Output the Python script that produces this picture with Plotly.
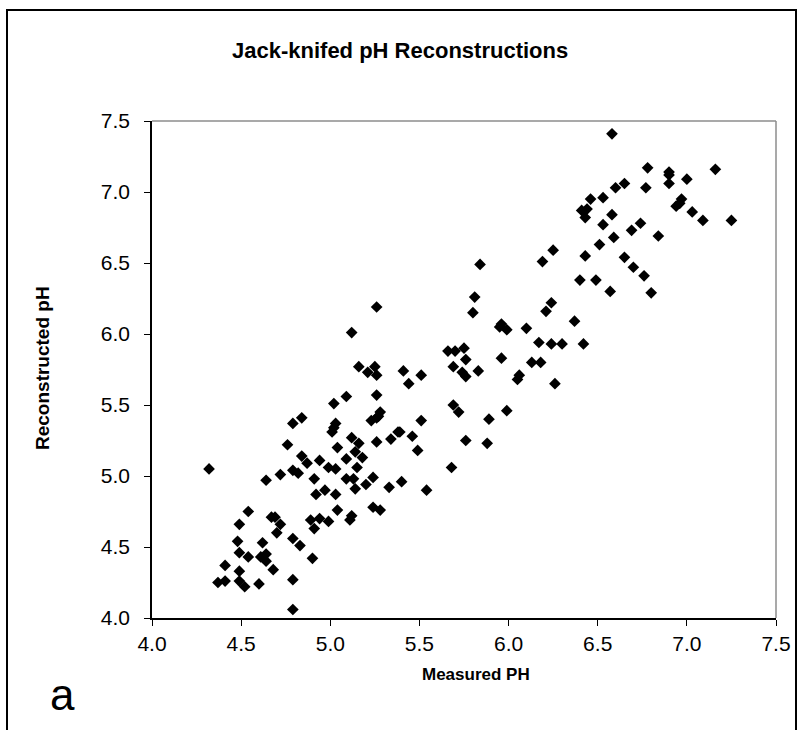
import plotly.graph_objects as go

measured_ph = [
    4.32, 4.76, 4.84, 4.87, 4.64, 4.72, 4.79, 4.82, 4.54, 4.49,
    4.67, 4.69, 4.72, 4.70, 4.48, 4.62, 4.79, 4.83, 4.49, 4.54,
    4.61, 4.64, 4.64, 4.68, 4.41, 4.49, 4.37, 4.41, 4.49, 4.52,
    4.60, 4.79, 4.79, 4.89, 4.90, 4.91, 4.94, 4.99, 5.04, 5.03,
    4.92, 4.97, 4.91, 5.11, 5.12, 5.24, 5.28, 5.09, 5.13, 5.14,
    5.20, 5.24, 5.33, 5.40, 5.54, 5.68, 5.76, 4.79, 4.84, 4.94,
    4.99, 5.03, 5.02, 5.09, 5.03, 5.02, 5.01, 5.04, 5.12, 5.16,
    5.14, 5.09, 5.18, 5.15, 5.26, 5.28, 5.26, 5.23, 5.27, 5.26,
    5.34, 5.38, 5.39, 5.46, 5.51, 5.49, 5.16, 5.21, 5.25, 5.26,
    5.41, 5.44, 5.51, 5.69, 5.74, 5.76, 5.69, 5.72, 5.26, 5.12,
    5.66, 5.84, 6.19, 6.40, 6.49, 5.81, 5.80, 6.24, 6.21, 6.37,
    5.96, 5.95, 5.99, 6.10, 6.17, 6.24, 6.30, 6.42, 5.70, 5.75,
    5.76, 5.83, 5.96, 6.13, 6.18, 6.06, 6.05, 6.26, 5.89, 5.99,
    5.88, 6.58, 6.78, 6.90, 6.90, 7.16, 7.00, 6.90, 6.77, 6.65,
    6.60, 6.53, 6.46, 6.44, 6.41, 6.43, 6.58, 6.53, 6.97, 6.96,
    6.94, 7.03, 7.09, 7.25, 6.74, 6.69, 6.59, 6.84, 6.51, 6.43,
    6.65, 6.70, 6.76, 6.57, 6.80, 6.25,
]
reconstructed_ph = [
    5.05, 5.22, 5.14, 5.09, 4.97, 5.01, 5.04, 5.02, 4.75, 4.66,
    4.71, 4.71, 4.66, 4.60, 4.54, 4.53, 4.56, 4.51, 4.46, 4.43,
    4.43, 4.45, 4.40, 4.34, 4.37, 4.33, 4.25, 4.26, 4.26, 4.22,
    4.24, 4.27, 4.06, 4.69, 4.42, 4.63, 4.70, 4.68, 4.76, 4.87,
    4.87, 4.90, 4.98, 4.69, 4.72, 4.78, 4.76, 4.98, 4.98, 4.91,
    4.94, 4.99, 4.92, 4.96, 4.90, 5.06, 5.25, 5.37, 5.41, 5.11,
    5.06, 5.05, 5.51, 5.56, 5.37, 5.34, 5.31, 5.20, 5.27, 5.23,
    5.17, 5.12, 5.13, 5.06, 5.57, 5.45, 5.41, 5.39, 5.42, 5.24,
    5.26, 5.31, 5.31, 5.28, 5.39, 5.18, 5.77, 5.73, 5.77, 5.71,
    5.74, 5.65, 5.71, 5.77, 5.73, 5.70, 5.50, 5.45, 6.19, 6.01,
    5.88, 6.49, 6.51, 6.38, 6.38, 6.26, 6.15, 6.22, 6.16, 6.09,
    6.07, 6.05, 6.03, 6.04, 5.94, 5.93, 5.93, 5.93, 5.88, 5.90,
    5.82, 5.74, 5.83, 5.80, 5.80, 5.71, 5.68, 5.65, 5.40, 5.46,
    5.23, 7.41, 7.17, 7.14, 7.12, 7.16, 7.09, 7.06, 7.03, 7.06,
    7.03, 6.96, 6.95, 6.88, 6.87, 6.82, 6.84, 6.77, 6.95, 6.92,
    6.90, 6.86, 6.80, 6.80, 6.78, 6.73, 6.68, 6.69, 6.63, 6.55,
    6.54, 6.47, 6.41, 6.30, 6.29, 6.59,
]
axis_ticks = [4.0, 4.5, 5.0, 5.5, 6.0, 6.5, 7.0, 7.5]

title_text = "Jack-knifed pH Reconstructions"
x_title = "Measured PH"
y_title = "Reconstructed pH"
panel_label = "a"

FONT = "Liberation Sans, Arial, sans-serif"

# plot-area geometry in pixels (for placing annotations)
L, R, T, B = 152, 776, 121, 618
W, H = R - L, B - T


def px(x):
    return (x - L) / W


def py(y):
    return (B - y) / H


fig = go.Figure()
fig.add_trace(go.Scatter(
    x=measured_ph, y=reconstructed_ph, mode="markers",
    marker=dict(symbol="diamond", size=9, color="black", line=dict(width=0)),
    showlegend=False, hoverinfo="x+y",
))

axis_common = dict(
    range=[4.0, 7.5], tickvals=axis_ticks, tickformat=".1f",
    showgrid=False, zeroline=False, showline=True, linecolor="black", linewidth=1.5,
    ticks="outside", ticklen=6, tickcolor="black", tickwidth=1,
    tickfont=dict(size=21, family=FONT),
)

fig.update_layout(
    width=803, height=730,
    margin=dict(l=L, r=803 - R, t=T, b=730 - B),
    paper_bgcolor="white", plot_bgcolor="white",
    font=dict(family=FONT, color="black"),
    showlegend=False,
    xaxis=dict(**axis_common, ticklabelstandoff=0),
    yaxis=dict(**axis_common, ticklabelstandoff=10),
    shapes=[
        dict(type="line", xref="paper", yref="paper", x0=0, x1=1, y0=1, y1=1,
             line=dict(color="#8c8c8c", width=1.5)),
        dict(type="line", xref="paper", yref="paper", x0=1, x1=1, y0=0, y1=1,
             line=dict(color="#8c8c8c", width=1.5)),
        dict(type="rect", xref="paper", yref="paper",
             x0=px(7), x1=px(796), y0=py(745), y1=py(10),
             line=dict(color="black", width=2), fillcolor="rgba(0,0,0,0)", layer="below"),
    ],
    annotations=[
        dict(text="<b>" + title_text + "</b>", xref="paper", yref="paper",
             x=px(400), y=py(50), xanchor="center", yanchor="middle",
             showarrow=False, font=dict(size=22, family=FONT)),
        dict(text="<b>" + x_title + "</b>", xref="paper", yref="paper",
             x=px(476), y=py(674), xanchor="center", yanchor="middle",
             showarrow=False, font=dict(size=17, family=FONT)),
        dict(text="<b>" + y_title + "</b>", xref="paper", yref="paper",
             x=px(42), y=py(368), xanchor="center", yanchor="middle",
             textangle=-90, showarrow=False, font=dict(size=19, family=FONT)),
        dict(text=panel_label, xref="paper", yref="paper",
             x=px(62), y=py(694), xanchor="center", yanchor="middle",
             showarrow=False, font=dict(size=44, family=FONT)),
    ],
)

fig.write_html("out.html", post_script="document.body.style.margin='0';",
               config={"displayModeBar": False})
